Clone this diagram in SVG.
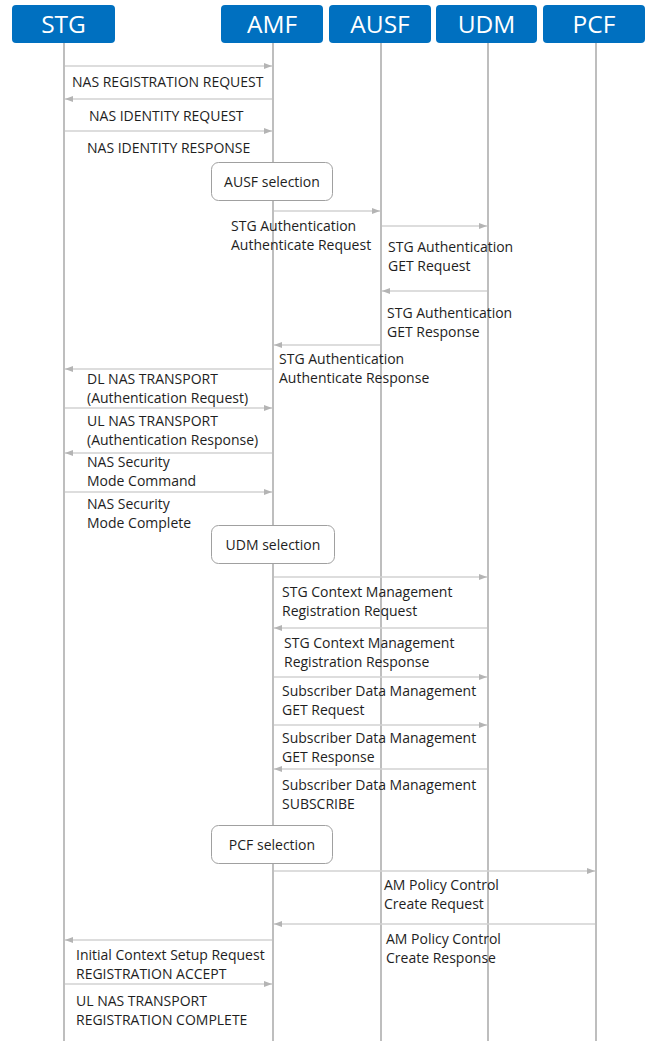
<svg xmlns="http://www.w3.org/2000/svg" width="654" height="1041" viewBox="0 0 654 1041">
  <defs>
    <marker id="ah" viewBox="0 0 8 8" refX="8" refY="4" markerWidth="8" markerHeight="8" markerUnits="userSpaceOnUse" orient="auto">
      <path d="M0,1 L8,4 L0,7 Z" fill="#b4b4b4"/>
    </marker>
    <style>
      .hdr { fill: #0070c0; }
      .hdr-t { font-family: "Open Sans", "Liberation Sans", sans-serif; font-size: 24.5px; fill: #ffffff; text-anchor: middle; }
      .life { stroke: #a8a8a8; stroke-width: 1.5; fill: none; }
      .msg { stroke: #d2d2d2; stroke-width: 1.5; fill: none; marker-end: url(#ah); }
      .lbl { font-family: "Open Sans", "Liberation Sans", sans-serif; font-size: 14px; fill: #1e1e1e; }
      .sel { fill: #ffffff; stroke: #a0a0a0; stroke-width: 1; }
      .sel-t { font-family: "Open Sans", "Liberation Sans", sans-serif; font-size: 14px; fill: #1e1e1e; text-anchor: middle; }
    </style>
  </defs>

  <!-- lifelines -->
  <g id="lifelines">
    <line class="life" x1="64" y1="43" x2="64" y2="1041"/>
    <line class="life" x1="273" y1="43" x2="273" y2="1041"/>
    <line class="life" x1="381" y1="43" x2="381" y2="1041"/>
    <line class="life" x1="488" y1="43" x2="488" y2="1041"/>
    <line class="life" x1="596" y1="43" x2="596" y2="1041"/>
  </g>

  <!-- participant headers -->
  <g id="STG">
    <rect class="hdr" x="12" y="5" width="103" height="38" rx="4"/>
    <text class="hdr-t" x="63.5" y="33">STG</text>
  </g>
  <g id="AMF">
    <rect class="hdr" x="221" y="5" width="102" height="38" rx="4"/>
    <text class="hdr-t" x="272" y="33">AMF</text>
  </g>
  <g id="AUSF">
    <rect class="hdr" x="329" y="5" width="102" height="38" rx="4"/>
    <text class="hdr-t" x="380" y="33">AUSF</text>
  </g>
  <g id="UDM">
    <rect class="hdr" x="436" y="5" width="101" height="38" rx="4"/>
    <text class="hdr-t" x="486.5" y="33">UDM</text>
  </g>
  <g id="PCF">
    <rect class="hdr" x="543" y="5" width="102" height="38" rx="4"/>
    <text class="hdr-t" x="594" y="33">PCF</text>
  </g>

  <!-- selection steps on AMF -->
  <g id="ausf-selection">
    <rect class="sel" x="211.5" y="162.5" width="121" height="38" rx="7"/>
    <text class="sel-t" x="272" y="187">AUSF selection</text>
  </g>
  <g id="udm-selection">
    <rect class="sel" x="211.5" y="525.5" width="123" height="38" rx="7"/>
    <text class="sel-t" x="273" y="550">UDM selection</text>
  </g>
  <g id="pcf-selection">
    <rect class="sel" x="211.5" y="825.5" width="121" height="38" rx="7"/>
    <text class="sel-t" x="272" y="850">PCF selection</text>
  </g>

  <!-- messages -->
  <g id="connectors">
    <line class="msg" x1="65" y1="66" x2="272" y2="66"/>
    <line class="msg" x1="272" y1="99" x2="65" y2="99"/>
    <line class="msg" x1="65" y1="131" x2="272" y2="131"/>
    <line class="msg" x1="274" y1="211" x2="380" y2="211"/>
    <line class="msg" x1="382" y1="226" x2="487" y2="226"/>
    <line class="msg" x1="487" y1="291" x2="382" y2="291"/>
    <line class="msg" x1="380" y1="345" x2="274" y2="345"/>
    <line class="msg" x1="272" y1="369" x2="65" y2="369"/>
    <line class="msg" x1="65" y1="408" x2="272" y2="408"/>
    <line class="msg" x1="272" y1="453" x2="65" y2="453"/>
    <line class="msg" x1="65" y1="492" x2="272" y2="492"/>
    <line class="msg" x1="274" y1="577" x2="487" y2="577"/>
    <line class="msg" x1="487" y1="628" x2="274" y2="628"/>
    <line class="msg" x1="274" y1="677" x2="487" y2="677"/>
    <line class="msg" x1="274" y1="725" x2="487" y2="725"/>
    <line class="msg" x1="487" y1="769" x2="274" y2="769"/>
    <line class="msg" x1="274" y1="871" x2="595" y2="871"/>
    <line class="msg" x1="595" y1="924" x2="274" y2="924"/>
    <line class="msg" x1="272" y1="940" x2="65" y2="940"/>
    <line class="msg" x1="65" y1="984" x2="272" y2="984"/>
  </g>

  <!-- message labels -->
  <g id="labels">
    <text class="lbl" x="72" y="87">NAS REGISTRATION REQUEST</text>
    <text class="lbl" x="89" y="121">NAS IDENTITY REQUEST</text>
    <text class="lbl" x="87" y="153">NAS IDENTITY RESPONSE</text>

    <text class="lbl" x="231" y="231">STG Authentication</text>
    <text class="lbl" x="231" y="250">Authenticate Request</text>
    <text class="lbl" x="388" y="252">STG Authentication</text>
    <text class="lbl" x="388" y="271">GET Request</text>
    <text class="lbl" x="387" y="318">STG Authentication</text>
    <text class="lbl" x="387" y="337">GET Response</text>
    <text class="lbl" x="279" y="364">STG Authentication</text>
    <text class="lbl" x="279" y="383">Authenticate Response</text>

    <text class="lbl" x="87" y="384">DL NAS TRANSPORT</text>
    <text class="lbl" x="87" y="403">(Authentication Request)</text>
    <text class="lbl" x="87" y="426">UL NAS TRANSPORT</text>
    <text class="lbl" x="87" y="445">(Authentication Response)</text>
    <text class="lbl" x="87" y="467">NAS Security</text>
    <text class="lbl" x="87" y="486">Mode Command</text>
    <text class="lbl" x="87" y="509">NAS Security</text>
    <text class="lbl" x="87" y="528">Mode Complete</text>

    <text class="lbl" x="282" y="597">STG Context Management</text>
    <text class="lbl" x="282" y="616">Registration Request</text>
    <text class="lbl" x="284" y="648">STG Context Management</text>
    <text class="lbl" x="284" y="667">Registration Response</text>
    <text class="lbl" x="282" y="696">Subscriber Data Management</text>
    <text class="lbl" x="282" y="715">GET Request</text>
    <text class="lbl" x="282" y="743">Subscriber Data Management</text>
    <text class="lbl" x="282" y="762">GET Response</text>
    <text class="lbl" x="282" y="790">Subscriber Data Management</text>
    <text class="lbl" x="282" y="809">SUBSCRIBE</text>

    <text class="lbl" x="384" y="890">AM Policy Control</text>
    <text class="lbl" x="384" y="909">Create Request</text>
    <text class="lbl" x="386" y="944">AM Policy Control</text>
    <text class="lbl" x="386" y="963">Create Response</text>
    <text class="lbl" x="76" y="960">Initial Context Setup Request</text>
    <text class="lbl" x="76" y="979">REGISTRATION ACCEPT</text>
    <text class="lbl" x="76" y="1006">UL NAS TRANSPORT</text>
    <text class="lbl" x="76" y="1025">REGISTRATION COMPLETE</text>
  </g>
</svg>
